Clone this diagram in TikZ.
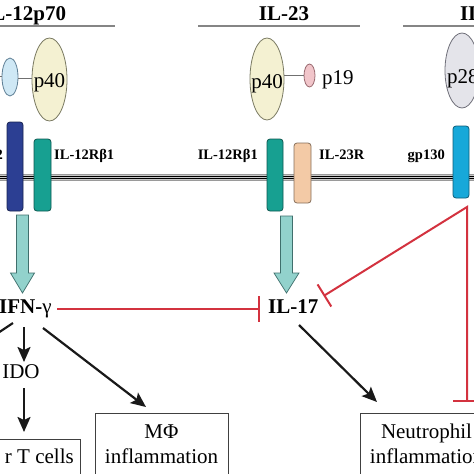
\documentclass[tikz,border=0pt]{standalone}
\usepackage{fontspec}
\setmainfont{Liberation Serif}
\usetikzlibrary{arrows.meta,calc,shapes.geometric}
\definecolor{hdr}{HTML}{858585}
\definecolor{pfty}{HTML}{F4F1D2}
\definecolor{pftyd}{HTML}{7A7A62}
\definecolor{pthf}{HTML}{CFE8F5}
\definecolor{pthfd}{HTML}{5F7F95}
\definecolor{pnt}{HTML}{F1C5CA}
\definecolor{pntd}{HTML}{9A6A70}
\definecolor{ptwe}{HTML}{E4E4EA}
\definecolor{ptwed}{HTML}{6E6E78}
\definecolor{rbtwo}{HTML}{2C3F93}
\definecolor{rteal}{HTML}{17A091}
\definecolor{rpeach}{HTML}{F3CAA6}
\definecolor{rgp}{HTML}{17A8D9}
\definecolor{barr}{HTML}{92D2CC}
\definecolor{barrd}{HTML}{3F6F6C}
\definecolor{inh}{HTML}{D3323F}
\definecolor{memg}{HTML}{C8C8C8}
\definecolor{memo}{HTML}{9A9A9A}
\definecolor{linkg}{HTML}{707070}
\begin{document}
\begin{tikzpicture}[x=1pt,y=-1pt,
  big/.style={font=\fontsize{21}{25}\selectfont,inner sep=0pt},
  bigb/.style={font=\fontsize{21}{25}\selectfont\bfseries,inner sep=0pt},
  lab/.style={font=\fontsize{14.5}{17}\selectfont\bfseries,inner sep=0pt},
  hdrline/.style={draw=hdr,line width=1.2pt},
  subunit/.style={ellipse,line width=0.8pt,inner sep=0pt},
  link/.style={draw=linkg,line width=0.8pt},
  recbox/.style={draw=#1!55!black,fill=#1,rounded corners=3pt,line width=0.8pt,inner sep=0pt},
  blockarr/.style={draw=barrd,fill=barr,line width=0.7pt,line join=miter},
  arr/.style={draw=black!90,line width=2.2pt,-{Stealth[length=15pt,width=13pt,inset=3pt]}},
  inhibline/.style={draw=inh,line width=2pt},
  outbox/.style={draw=black!75,line width=0.8pt,inner sep=0pt,minimum width=133pt,minimum height=80pt,anchor=north west},
]
\useasboundingbox (0,0) rectangle (474,474);
\clip (0,0) rectangle (474,474);

% headers
\node[bigb,anchor=base west] (h12) at (-17,20) {IL-12p70};
\node[bigb,anchor=base] (h23) at (284,20) {IL-23};
\node[bigb,anchor=base west] (h27) at (460,20) {IL-27};
\draw[hdrline] (-50,26) -- (115,26);
\draw[hdrline] (198,26) -- (360,26);
\draw[hdrline] (403,26) -- (560,26);

% cytokine subunits
\coordinate (p35l) at (-14,76);
\node[subunit,draw=pthfd,fill=pthf,minimum width=16pt,minimum height=38pt] (p35) at (10,77) {};
\node[subunit,draw=pftyd,fill=pfty,minimum width=35pt,minimum height=83pt] (p40a) at (49.5,79.5) {};
\draw[link] (p35l) -- (p35l -| p35.west);
\draw[link] ([yshift=-1pt]p35.east) -- ([yshift=-1pt]p35.east -| p40a.west);
\node[big,anchor=base] (t40a) at (49.5,87) {p40};

\node[subunit,draw=pftyd,fill=pfty,minimum width=34pt,minimum height=82pt] (p40b) at (267,79) {};
\node[subunit,draw=pntd,fill=pnt,minimum width=11pt,minimum height=23pt] (p19) at (309.5,75.5) {};
\draw[link] (p19.west -| p40b.east) -- (p19.west);
\node[big,anchor=base] (t40b) at (267,88) {p40};
\node[big,anchor=base west] (t19) at (322,84) {p19};

\node[subunit,draw=ptwed,fill=ptwe,minimum width=34pt,minimum height=75pt] (p28) at (462,70.5) {};
\node[big,anchor=base west] (t28) at (447,83) {p28};

% membrane
\fill[memg] (-5,174.8) rectangle (480,180.2);
\draw[memo,line width=0.8pt] (-5,174.8) -- (480,174.8);
\draw[memo,line width=0.8pt] (-5,180.2) -- (480,180.2);
\draw[black,line width=1.2pt] (-5,176.4) -- (480,176.4);
\draw[black,line width=1.2pt] (-5,178.8) -- (480,178.8);

% receptors
\node[recbox=rbtwo,minimum width=16pt,minimum height=89pt] (r12b2) at (15,166.5) {};
\node[recbox=rteal,minimum width=17pt,minimum height=72pt] (r12b1a) at (42.5,175) {};
\node[recbox=rteal,minimum width=16pt,minimum height=72pt] (r12b1b) at (275,175) {};
\node[recbox=rpeach,minimum width=17pt,minimum height=60pt] (r23r) at (302.5,173) {};
\node[recbox=rgp,minimum width=16pt,minimum height=72pt] (rgp130) at (461,162) {};

\node[lab,anchor=base east] (l12b2) at (3,159) {IL-12Rβ2};
\node[lab,anchor=base west] (l12b1a) at (54,159) {IL-12Rβ1};
\node[lab,anchor=base east] (l12b1b) at (258,159) {IL-12Rβ1};
\node[lab,anchor=base west] (l23r) at (319,159) {IL-23R};
\node[lab,anchor=base east] (lgp) at (445,159) {gp130};

% block arrows
\draw[blockarr] (16.5,215) -- (28.5,215) -- (28.5,273) -- (34.5,273) -- (22.5,293) -- (10.5,273) -- (16.5,273) -- cycle;
\draw[blockarr] (280.5,216) -- (292.5,216) -- (292.5,273) -- (299,273) -- (286.5,293) -- (274,273) -- (280.5,273) -- cycle;

% mediators
\node[bigb,anchor=base west] (ifn) at (-1,313) {IFN-\textmd{γ}};
\node[bigb,anchor=base west] (il17) at (268,313) {IL-17};
\node[big,anchor=base] (ido) at (21,378) {IDO};

% outcome boxes
\node[outbox] (tbox) at (-53,439) {};
\node[big,anchor=base east] (tcl) at (74,463) {r T cells};
\node[outbox] (mbox) at (95,413) {};
\node[big,anchor=base] (tm1) at (161.5,438) {MΦ};
\node[big,anchor=base] (tm2) at (161.5,463) {inflammation};
\node[outbox] (nbox) at (360,413) {};
\node[big,anchor=base] (tn1) at (426.5,438) {Neutrophil};
\node[big,anchor=base] (tn2) at (426.5,463) {inflammation};

% inhibition
\draw[inhibline,-{Bar[width=26pt]}] ($(ifn.base west)+(58,-4)$) -- ($(il17.base west)+(-8,-4)$);
\coordinate (rtop) at (467,207);
\coordinate (rbot) at (467,402);
\draw[inhibline,line join=miter,{Bar[width=26pt]}-{Bar[width=28pt]}] ($(il17.base east)+(5,-17)$) -- (rtop) -- (rbot);

% activation arrows
\draw[black!90,line width=2.2pt] ($(ifn.base west)+(14,10)$) -- ($(ifn.base west)+(-16,30)$);
\draw[arr] ($(ifn.base west)+(25,14)$) -- ($(ido.base)+(3,-16)$);
\draw[arr] ($(ido.base)+(3,10)$) -- ($(ido.base |- tbox.north)+(3,-7)$);
\draw[arr] ($(ifn.base west)+(44,15)$) -- ($(mbox.north west)+(51,-6)$);
\draw[arr] ($(il17.base west)+(31,12)$) -- ($(nbox.north west)+(17,-11)$);
\end{tikzpicture}
\end{document}
